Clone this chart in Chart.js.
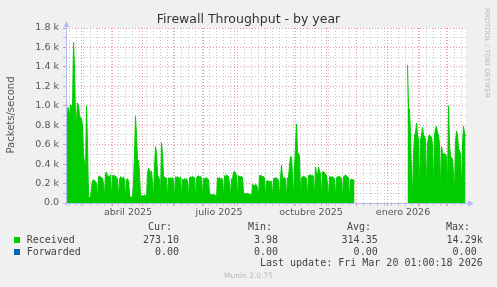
<!DOCTYPE html>
<html>
<head>
<meta charset="utf-8">
<script src="https://cdn.jsdelivr.net/npm/chart.js@4.4.1/dist/chart.umd.min.js"></script>
<style>
  html, body { margin: 0; padding: 0; background: #f0f0f0; }
  #wrap { position: relative; width: 497px; height: 287px; overflow: hidden; font-family: "DejaVu Sans", sans-serif; }
  #chart { position: absolute; left: 0; top: 0; }
  .t { position: absolute; white-space: pre; line-height: 12px; }
  .mono { font-family: "DejaVu Sans Mono", monospace; font-size: 10px; color: #444; }
  .r { text-align: right; }
  .sq { position: absolute; width: 6px; height: 6px; }
</style>
</head>
<body>
<div id="wrap">
  <canvas id="chart" width="497" height="287"></canvas>
  <div class="t" id="title" style="left:0;width:497px;top:12px;text-align:center;font-size:12.5px;color:#333;line-height:14px;"></div>
  <div class="t" id="ytitle" style="left:-49.5px;top:108.5px;width:120px;text-align:center;font-size:10px;color:#555;transform:rotate(-90deg);"></div>
  <div class="t" id="side" style="left:422px;top:48px;width:130px;text-align:center;font-size:7px;color:#bbb;line-height:10px;transform:rotate(90deg);"></div>
  <div id="legend"></div>
  <div class="t" id="footer" style="left:0;width:497px;top:271px;text-align:center;font-size:7.5px;color:#bbb;line-height:10px;"></div>
</div>
<script>
// day 0 of the series is 14 Feb 2025, one value per day (400 days)
const received = [
  1050, 900, 980, 880, 1010, 1000, 960,
  1650, 1400, 860, 850, 1030, 1000, 900,
  880, 860, 800, 500, 400, 350, 1000,
  600, 70, 60, 60, 150, 230, 240,
  230, 220, 200, 40, 270, 280, 260,
  265, 250, 200, 40, 300, 320, 270,
  280, 260, 290, 40, 270, 290, 270,
  280, 260, 250, 40, 240, 270, 260,
  250, 270, 240, 40, 240, 250, 230,
  80, 60, 60, 70, 200, 500, 890,
  700, 450, 440, 300, 80, 75, 75,
  75, 80, 80, 40, 300, 360, 340,
  300, 330, 200, 40, 350, 580, 520,
  300, 260, 250, 40, 620, 500, 280,
  260, 265, 250, 40, 260, 255, 260,
  250, 260, 240, 40, 270, 265, 270,
  260, 250, 270, 40, 245, 240, 250,
  245, 250, 230, 40, 260, 270, 260,
  275, 265, 260, 40, 250, 275, 280,
  270, 275, 260, 40, 255, 250, 255,
  260, 250, 240, 90, 90, 85, 85,
  90, 85, 80, 45, 260, 255, 260,
  250, 255, 240, 40, 280, 270, 290,
  280, 275, 200, 40, 250, 240, 320,
  325, 310, 280, 40, 280, 275, 270,
  275, 260, 100, 100, 95, 95, 100,
  95, 90, 90, 40, 190, 185, 180,
  190, 185, 150, 40, 280, 285, 280,
  270, 275, 250, 40, 225, 230, 225,
  220, 225, 220, 40, 250, 255, 260,
  255, 250, 230, 40, 250, 390, 260,
  255, 260, 250, 40, 260, 265, 380,
  480, 470, 300, 40, 350, 600, 810,
  520, 510, 480, 40, 260, 270, 275,
  270, 265, 250, 40, 280, 285, 290,
  280, 285, 270, 40, 370, 300, 280,
  370, 330, 300, 40, 320, 325, 310,
  300, 280, 200, 40, 270, 270, 265,
  270, 260, 250, 40, 260, 270, 275,
  270, 265, 250, 40, 270, 280, 285,
  280, 270, 260, 40, 240, 245, 240,
  240, 230, null, null, null, null, null,
  null, null, null, null, null, null, null,
  null, null, null, null, null, null, null,
  null, null, null, null, null, null, null,
  null, null, null, null, null, null, null,
  null, null, null, null, null, null, null,
  null, null, null, null, null, null, null,
  null, null, null, null, null, 1420, 980,
  960, 700, 300, 60, 500, 700, 720,
  820, 700, 650, 100, 650, 700, 780,
  700, 690, 650, 100, 600, 690, 700,
  690, 680, 600, 100, 700, 760, 790,
  720, 700, 600, 100, 580, 520, 500,
  510, 500, 480, 100, 1000, 600, 480,
  470, 450, 300, 100, 620, 740, 700,
  560, 540, 500, 100, 600, 790, 720,
  690
];

const xLabels = ["abril 2025", "julio 2025", "octubre 2025", "enero 2026"];
const xLabelMonths = [[2025, 3], [2025, 6], [2025, 9], [2026, 0]];
const yMax = 1800;

const seriesNames = ["Received", "Forwarded"];
const seriesColors = ["#00cc00", "#0066b3"];
const statHeads = ["Cur:", "Min:", "Avg:", "Max:"];
const statValues = [
  ["273.10", "3.98", "314.35", "14.29k"],
  ["0.00", "0.00", "0.00", "0.00 "]
];

const titleText = "Firewall Throughput - by year";
const yTitle = "Packets/second";
const lastUpdate = "Last update: Fri Mar 20 01:00:18 2026";

const startDay = Date.UTC(2025, 1, 14);
const dayOf = (y, m, d) => Math.round((Date.UTC(y, m, d) - startDay) / 86400000);

const monthTicks = [];
for (let m = 2; m <= 14; m++) monthTicks.push(dayOf(2025, m, 1));
const monthSet = new Set(monthTicks);
const weekTicks = [];
for (let d = dayOf(2025, 1, 17); d < received.length; d += 7) {
  if (!monthSet.has(d)) weekTicks.push(d);
}
const labelTicks = xLabelMonths.map(([y, m]) => dayOf(y, m, 16) + 0.5);

const redGrid = "rgba(225, 130, 130, 0.8)";
const grayGrid = "rgba(185, 185, 185, 0.8)";
const axisColor = "#b4bcf0";

document.getElementById("title").textContent = titleText;
document.getElementById("ytitle").textContent = yTitle;
document.getElementById("side").textContent = "RRDTOOL / TOBI OETIKER";
document.getElementById("footer").textContent = "Munin 2.0.75";

const legend = document.getElementById("legend");
const headRight = [172, 272, 371, 470];
const valRight = [179, 278, 377.7, 482.7];
function addText(text, left, right, top) {
  const el = document.createElement("div");
  el.className = "t mono" + (right != null ? " r" : "");
  el.textContent = text;
  el.style.top = top + "px";
  if (right != null) el.style.right = (497 - right) + "px";
  else el.style.left = left + "px";
  legend.append(el);
}
statHeads.forEach((h, i) => addText(h, null, headRight[i], 221));
seriesNames.forEach((name, s) => {
  const top = 233.5 + s * 12.2;
  const sq = document.createElement("div");
  sq.className = "sq";
  sq.style.left = "14px";
  sq.style.top = (top + 3) + "px";
  sq.style.background = seriesColors[s];
  legend.append(sq);
  addText(name, 26.7, null, top);
  statValues[s].forEach((v, i) => addText(v, null, valRight[i], top));
});
addText(lastUpdate, null, 482.7, 257.3);

const plotBg = {
  id: "plotBg",
  beforeDraw(chart) {
    const { ctx, chartArea: a } = chart;
    ctx.save();
    ctx.fillStyle = "#ffffff";
    ctx.fillRect(a.left, a.top, a.right - a.left, a.bottom - a.top);
    ctx.restore();
  },
  afterDraw(chart) {
    const { ctx, chartArea: a } = chart;
    ctx.save();
    ctx.strokeStyle = axisColor;
    ctx.fillStyle = axisColor;
    ctx.lineWidth = 1;
    ctx.beginPath();
    ctx.moveTo(a.left - 3, a.bottom + 0.5);
    ctx.lineTo(a.right + 3, a.bottom + 0.5);
    ctx.moveTo(a.left + 0.5, a.bottom + 3);
    ctx.lineTo(a.left + 0.5, a.top - 2);
    ctx.stroke();
    ctx.beginPath();
    ctx.moveTo(a.right + 2, a.bottom - 2.5);
    ctx.lineTo(a.right + 8, a.bottom + 0.5);
    ctx.lineTo(a.right + 2, a.bottom + 3.5);
    ctx.fill();
    ctx.beginPath();
    ctx.moveTo(a.left - 2.5, a.top - 1);
    ctx.lineTo(a.left + 0.5, a.top - 7);
    ctx.lineTo(a.left + 3.5, a.top - 1);
    ctx.fill();
    ctx.restore();
  }
};

new Chart(document.getElementById("chart"), {
  type: "line",
  data: {
    datasets: [
      {
        label: seriesNames[0],
        data: received.map((v, i) => ({ x: i, y: v })),
        borderColor: seriesColors[0],
        backgroundColor: seriesColors[0],
        borderWidth: 1,
        pointRadius: 0,
        fill: "origin",
        tension: 0,
        spanGaps: false,
      },
    ],
  },
  plugins: [plotBg],
  options: {
    responsive: false,
    animation: false,
    layout: { padding: { left: 0, top: 28, right: 31, bottom: 0 } },
    plugins: {
      legend: { display: false },
      tooltip: { enabled: false },
    },
    scales: {
      x: {
        type: "linear",
        min: -0.5,
        max: received.length - 0.5,
        afterBuildTicks(axis) {
          axis.ticks = [...weekTicks, ...monthTicks, ...labelTicks]
            .sort((a, b) => a - b)
            .map((v) => ({ value: v }));
        },
        afterFit(s) {
          s.height = 84;
        },
        border: { display: false, dash: [1, 2] },
        grid: {
          color(ctx) {
            if (!ctx.tick) return "rgba(0,0,0,0)";
            const v = ctx.tick.value;
            if (monthSet.has(v)) return redGrid;
            if (labelTicks.includes(v)) return "rgba(0,0,0,0)";
            return grayGrid;
          },
          tickLength: 3,
          tickBorderDash: [],
        },
        ticks: {
          autoSkip: false,
          maxRotation: 0,
          minRotation: 0,
          padding: 1,
          color: "#555",
          font: { family: "DejaVu Sans", size: 9.5 },
          callback(value) {
            const i = labelTicks.indexOf(value);
            return i >= 0 ? xLabels[i] : "";
          },
        },
      },
      y: {
        min: 0,
        max: yMax,
        afterFit(s) {
          s.width = 66;
        },
        border: { display: false, dash: [1, 2] },
        grid: {
          color(ctx) {
            if (!ctx.tick) return "rgba(0,0,0,0)";
            return ctx.tick.value % 200 === 0 ? redGrid : grayGrid;
          },
          tickLength: 3,
          tickBorderDash: [],
        },
        ticks: {
          stepSize: 100,
          autoSkip: false,
          padding: 4,
          color: "#555",
          font: { family: "DejaVu Sans", size: 9.5 },
          callback(value) {
            if (value === 0) return "0.0";
            if (value % 200 !== 0) return "";
            return (value / 1000).toFixed(1) + " k";
          },
        },
      },
    },
  },
});
</script>
</body>
</html>
